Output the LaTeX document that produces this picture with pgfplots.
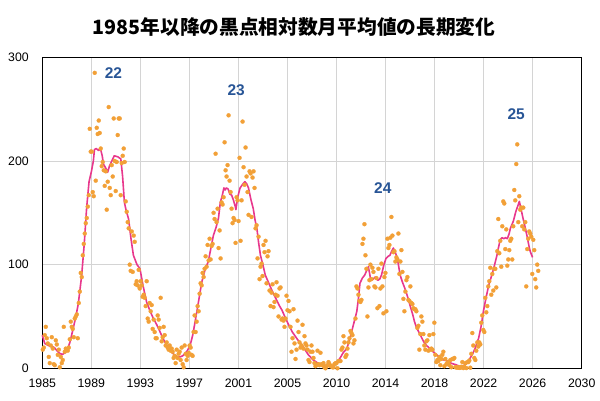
\documentclass[border=0pt]{standalone}
\usepackage{fontspec}
\setmainfont{Liberation Sans}
\newfontfamily\cjk{Noto Sans CJK JP}
\usepackage{pgfplots}
\pgfplotsset{compat=1.18}
\usepackage{pgfplotstable}
\definecolor{dotc}{RGB}{242,160,55}
\definecolor{linec}{RGB}{232,56,140}
\definecolor{labc}{RGB}{40,85,150}
\definecolor{gridc}{RGB}{212,212,212}

\pgfplotstableread{
yr m1 m2 m3 m4 m5 m6 m7 m8 m9 m10 m11 m12
1985 18 20 32 40 29 24 11 5 22 30 19 4
1986 3 27 23 13 18 1 11 5 8 40 16 19
1987 18 17 20 28 45 40 38 30 48 50 52 29
1988 63 74 92 88 109 120 130 140 145 156 167 231
1989 209 209 170 166 285 181 232 226 239 227 212 195
1990 199 191 176 190 153 180 252 174 167 196 185 241
1991 200 171 199 225 241 241 167 198 205 212 199 161
1992 151 141 135 100 94 132 93 128 122 81 84 80
1993 95 77 84 80 69 71 68 60 84 48 45 63
1994 55 61 38 47 35 29 29 51 47 39 68 26
1995 30 40 32 22 25 20 18 22 17 19 16 10
1996 12 5 18 10 14 16 8 20 4 1 22 14
1997 8 12 15 22 20 13 12 35 51 35 45 60
1998 55 72 82 80 92 88 96 108 98 119 104 125
1999 105 118 120 150 144 207 141 154 116 133 106 160
2000 158 165 218 191 185 196 244 181 170 154 140 145
2001 143 121 165 162 142 203 123 162 238 194 177 213
2002 185 170 148 190 188 146 184 190 174 135 138 106
2003 127 86 98 101 89 119 112 123 82 108 113 75
2004 60 73 81 59 64 71 83 70 50 77 78 47
2005 48 46 40 48 70 56 65 55 40 16 29 57
2006 24 9 18 46 35 25 20 22 42 19 31 24
2007 22 18 8 6 16 22 16 10 5 2 3 17
2008 4 3 15 4 3 5 1 0 2 3 6 4
2009 2 2 1 1 4 5 5 0 7 7 7 18
2010 20 31 25 11 13 19 25 29 36 34 32 24
2011 27 48 79 77 71 65 64 66 120 125 139 109
2012 96 50 78 85 100 86 97 93 79 78 87 58
2013 96 60 77 101 79 53 88 92 55 125 116 119
2014 126 146 128 112 113 103 107 105 130 91 103 114
2015 93 67 55 74 85 88 66 65 79 63 62 58
2016 57 57 55 39 41 18 33 50 45 33 22 18
2017 26 27 17 32 18 19 18 33 44 13 6 8
2018 7 11 3 9 13 16 2 9 4 5 6 3
2019 8 1 9 9 10 1 1 0.5 1 0.4 0.5 1.5
2020 6 0.2 1.5 5 0.2 6 6 7.5 0.6 14 34 22
2021 10 8 17 25 21 25 23 44 51 37 35 68
2022 54 60 79 84 97 71 91 75 96 96 78 113
2023 144 111 123 98 137 161 159 115 134 99 105 114
2024 123 125 105 137 172 162 197 216 141 166 153 155
2025 137 155 134 141 79 115 125 132 130 127 91 124
2026 114 86 78 100 94 nan nan nan nan nan nan nan
}\monthly

\pgfplotstableread{
x y
1985.0 32
1985.2 24
1985.5 22
1985.8 21
1986.0 20
1986.3 16
1986.5 14
1986.7 13.5
1986.9 15
1987.1 18
1987.3 25
1987.55 37
1987.8 50
1988.0 62
1988.28 89
1988.5 120
1988.7 155
1988.9 180
1989.1 190
1989.26 200
1989.35 211
1989.5 212
1989.7 210
1989.85 212
1990.0 205
1990.1 197
1990.3 193
1990.45 189
1990.6 195
1990.8 200
1991.0 205
1991.3 204
1991.55 202
1991.7 185
1991.85 160
1992.0 152
1992.2 144
1992.4 125
1992.6 109
1992.9 100
1993.15 96
1993.4 80
1993.7 64
1994.0 55
1994.27 48
1994.55 42
1994.83 35
1995.1 28
1995.4 22
1995.7 17
1996.0 13
1996.3 11
1996.5 11
1996.7 12
1996.9 14
1997.1 17
1997.33 22
1997.55 32
1997.75 45
1998.0 62
1998.3 83
1998.6 96
1998.85 103
1999.05 115
1999.27 128
1999.5 136
1999.7 145
1999.85 160
2000.0 166
2000.15 174
2000.25 172
2000.35 174
2000.5 173
2000.65 168
2000.8 167
2000.95 162
2001.1 156
2001.15 153
2001.3 165
2001.5 174
2001.75 178
2001.9 180
2002.05 178
2002.2 174
2002.4 163
2002.6 154
2002.75 143
2002.9 135
2003.05 121
2003.2 109
2003.4 100
2003.6 90
2003.9 82
2004.2 74
2004.5 67
2004.75 61
2005.0 56
2005.3 48
2005.55 42
2005.86 35
2006.1 31
2006.4 26
2006.8 20
2007.2 13
2007.6 8
2008.0 5
2008.5 3
2008.9 2
2009.2 2.5
2009.4 3.5
2009.6 6
2009.85 10
2010.1 15
2010.4 19
2010.6 26
2010.8 35
2011.0 44
2011.24 55
2011.4 70
2011.5 82
2011.7 87
2011.9 90
2012.05 94
2012.2 98
2012.3 92
2012.4 85
2012.6 86
2012.76 88
2012.9 86
2013.0 85
2013.15 86
2013.3 90
2013.5 100
2013.67 106
2013.85 108
2014.0 109
2014.15 113
2014.29 116
2014.45 112
2014.62 106
2014.75 97
2014.85 90
2015.05 83
2015.25 77
2015.45 70
2015.67 61
2015.9 52
2016.05 45
2016.23 39
2016.5 33
2016.8 26
2017.05 22
2017.35 19
2017.6 16
2017.9 13
2018.2 10
2018.5 8
2018.8 7
2019.0 5.5
2019.2 4.5
2019.5 3.5
2019.8 2
2020.0 1.8
2020.28 3.5
2020.5 6
2020.7 10
2020.9 14
2021.1 19
2021.4 29
2021.6 40
2021.8 55
2022.0 67
2022.24 80
2022.45 88
2022.65 96
2022.93 109
2023.05 116
2023.2 124
2023.35 126
2023.5 125
2023.65 126
2023.8 125
2023.95 130
2024.05 135
2024.3 142
2024.5 151
2024.65 156
2024.8 161
2024.95 153
2025.1 145
2025.3 135
2025.45 127
2025.6 118
2025.7 113
2025.9 107
}\smoothed

\begin{document}
\begin{tikzpicture}
\path[use as bounding box] (0,0) rectangle (600pt,400pt);
\node[font=\cjk\bfseries\fontsize{19.7}{23}\selectfont, anchor=center, inner sep=0pt] at (294pt,373pt) {1985年以降の黒点相対数月平均値の長期変化};
\begin{axis}[
  at={(42.3pt,31.7pt)}, anchor=south west,
  scale only axis, width=539.4pt, height=311pt,
  xmin=1985, xmax=2030, ymin=0, ymax=300,
  xtick={1985,1989.0909,1993.1818,1997.2727,2001.3636,2005.4545,2009.5455,2013.6364,2017.7273,2021.8182,2025.9091,2030},
  xticklabels={1985,1989,1993,1997,2001,2005,2010,2014,2018,2022,2026,2030},
  ytick={0,100,200,300},
  grid=major, grid style={gridc, line width=0.9pt},
  major tick length=0pt,
  axis line style={black, line width=1pt},
  tick label style={font=\fontsize{12.3}{14}\selectfont},
  /pgf/number format/assume math mode=true,
  yticklabel style={xshift=-10pt},
  xticklabel style={yshift=-7.5pt},
  clip=false,
]
\pgfplotsinvokeforeach{1,...,12}{
  \addplot[color=dotc, only marks, mark=*, mark size=2.0pt, mark options={solid, draw=dotc, fill=dotc, line width=0.3pt, line join=round}] table[x expr=\thisrow{yr}+(#1-0.5)/12, y=m#1]{\monthly};
}
\addplot[linec, line width=1.6pt, no markers, line join=round] table[x=x,y=y]{\smoothed};
\node[labc, font=\bfseries\fontsize{15.5}{18}\selectfont] at (axis cs:1990.93,284.5) {22};
\node[labc, font=\bfseries\fontsize{15.5}{18}\selectfont] at (axis cs:2001.17,268) {23};
\node[labc, font=\bfseries\fontsize{15.5}{18}\selectfont] at (axis cs:2013.41,173.6) {24};
\node[labc, font=\bfseries\fontsize{15.5}{18}\selectfont] at (axis cs:2024.54,245.3) {25};
\end{axis}
\end{tikzpicture}
\end{document}
